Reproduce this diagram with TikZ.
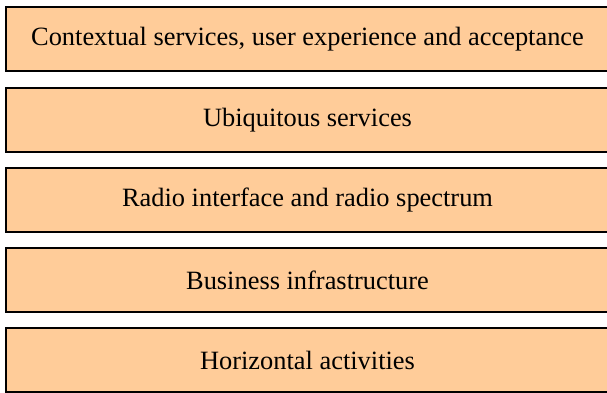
\documentclass[tikz,border=0pt]{standalone}
\usepackage{fontspec}
\setmainfont{Liberation Serif}
\definecolor{peach}{RGB}{255,204,153}
\begin{document}
\begin{tikzpicture}[x=1pt,y=1pt,
  layerbox/.style={draw=black, line width=2pt, fill=peach, minimum width=603pt, minimum height=64pt, inner sep=0pt, font=\fontsize{26.4}{30}\selectfont, anchor=north west}]
\useasboundingbox (0,0) rectangle (607,392);
\clip (0,0) rectangle (607,392);
\node[layerbox] (l1) at (5,386) {Contextual services, user experience and acceptance};
\node[layerbox] (l2) at (5,305) {Ubiquitous services};
\node[layerbox] (l3) at (5,225) {Radio interface and radio spectrum};
\node[layerbox] (l4) at (5,145) {Business infrastructure};
\node[layerbox] (l5) at (5,65) {Horizontal activities};
\end{tikzpicture}
\end{document}
